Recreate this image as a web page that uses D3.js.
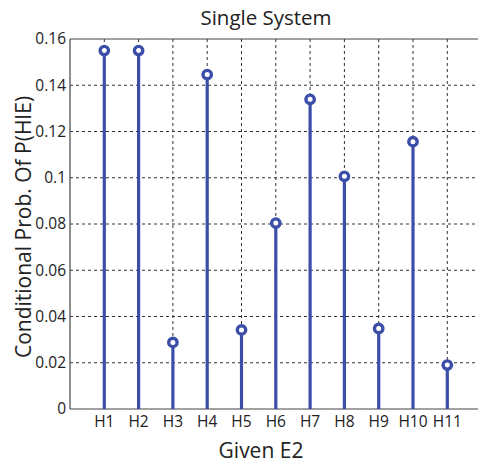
<!DOCTYPE html>
<html><head><meta charset="utf-8">
<script src="https://cdn.jsdelivr.net/npm/d3@7"></script>
<style>
body{margin:0;background:#fff;}
text{font-family:"Open Sans","Noto Sans",sans-serif;fill:#222;}
</style></head>
<body><svg id="c" width="478" height="464"></svg>
<script>
const categories = ["H1","H2","H3","H4","H5","H6","H7","H8","H9","H10","H11"];
const values = [0.155,0.155,0.0288,0.1446,0.0342,0.0804,0.1339,0.1006,0.0348,0.1156,0.019];
const yTicks = [0,0.02,0.04,0.06,0.08,0.1,0.12,0.14,0.16];
const yTickLabels = ["0","0.02","0.04","0.06","0.08","0.1","0.12","0.14","0.16"];
const title = "Single System";
const xLabel = "Given E2";
const yLabel = "Conditional Prob. Of P(HIE)";

(function(){
const svg = d3.select("#c");
const pL = 70, pR = 481.6, pT = 39, pB = 409;
const x = d3.scaleLinear().domain([0,12]).range([pL,pR]);
const y = d3.scaleLinear().domain([0,0.16]).range([pB,pT]);
const color = "#3b4ea8";

// grid
const g = svg.append("g");
g.selectAll(".vg").data(d3.range(1,12)).join("line")
  .attr("x1",d=>x(d)).attr("x2",d=>x(d)).attr("y1",pT).attr("y2",pB)
  .attr("stroke","#333").attr("stroke-width",1).attr("stroke-dasharray","3,3");
g.selectAll(".hg").data(yTicks.filter(v=>v>0&&v<0.16)).join("line")
  .attr("x1",pL).attr("x2",pR).attr("y1",d=>y(d)).attr("y2",d=>y(d))
  .attr("stroke","#333").attr("stroke-width",1).attr("stroke-dasharray","3,3");

// axes frame
svg.append("line").attr("x1",pL).attr("x2",pR).attr("y1",pT).attr("y2",pT).attr("stroke","#444").attr("stroke-width",1.2);
svg.append("line").attr("x1",pL).attr("x2",pR).attr("y1",pB).attr("y2",pB).attr("stroke","#444").attr("stroke-width",1.2);
svg.append("line").attr("x1",pL).attr("x2",pL).attr("y1",pT).attr("y2",pB).attr("stroke","#444").attr("stroke-width",1.2);

// y tick labels
svg.selectAll(".yt").data(yTicks).join("text")
  .attr("x",pL-4).attr("y",d=>y(d)).attr("dy","0.35em")
  .attr("text-anchor","end").attr("font-size",15.5).text((d,i)=>yTickLabels[i]);

// x tick labels
svg.selectAll(".xt").data(categories).join("text")
  .attr("x",(d,i)=>x(i+1)).attr("y",pB+18)
  .attr("text-anchor","middle").attr("font-size",15.5).text(d=>d);

// stems
svg.selectAll(".stem").data(values).join("line")
  .attr("x1",(d,i)=>x(i+1)).attr("x2",(d,i)=>x(i+1))
  .attr("y1",y(0)).attr("y2",d=>y(d))
  .attr("stroke",color).attr("stroke-width",3.2);
svg.selectAll(".mk").data(values).join("circle")
  .attr("cx",(d,i)=>x(i+1)).attr("cy",d=>y(d)).attr("r",4.2)
  .attr("fill","#fff").attr("stroke",color).attr("stroke-width",3.4);

// titles
svg.append("text").attr("x",266).attr("y",25).attr("text-anchor","middle").attr("font-size",20.5).text(title);
svg.append("text").attr("x",261).attr("y",458).attr("text-anchor","middle").attr("font-size",21).text(xLabel);
svg.append("text").attr("transform","translate(31,227) rotate(-90)").attr("text-anchor","middle").attr("font-size",21).text(yLabel);
})();
</script></body></html>
